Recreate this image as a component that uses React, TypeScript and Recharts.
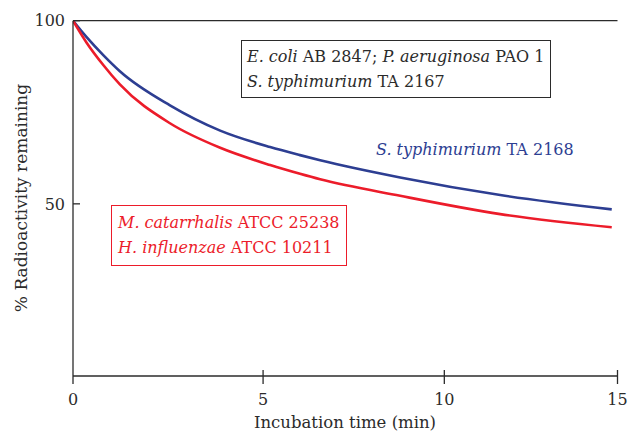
import { LineChart, Line, XAxis, YAxis, ReferenceLine } from 'recharts';

// time in minutes, % radioactivity remaining
const minutes = [0, 0.35, 0.78, 1.21, 2.52, 3.85, 5.19, 6.0, 6.55, 8.76, 11.59, 14.83];
const typhimurium2168 = [100, 95.5, 90.6, 86.2, 76.9, 70.0, 65.5, 63.3, 61.9, 57.2, 52.4, 48.5];
const catarrhalisInfluenzae = [100, 94.0, 87.9, 82.6, 72.0, 65.3, 60.6, 58.2, 56.7, 52.2, 47.2, 43.6];
const timeTicks = [0, 5, 10, 15];
const percentTicks = [50, 100];

// printed time axis gets a bit tighter to the right, log of (t + 100) reproduces that
const TIME_SHIFT = 100;

const data = minutes.map((t, i) => ({
  t,
  blue: typhimurium2168[i],
  red: catarrhalisInfluenzae[i],
}));

const FONT = '"DejaVu Serif", serif';
const INK = '#2b2b2b';
const BLUE = '#2d3e92';
const RED = '#ec1c2a';
const PLOT_LEFT = 73;
const AXIS_Y = 376;

const TimeTick = ({ x, payload }: any) => {
  const v = Math.round(payload.value - TIME_SHIFT);
  return (
    <g>
      <line x1={x} x2={x} y1={v === 0 ? AXIS_Y : AXIS_Y - 6} y2={AXIS_Y + 8} stroke={INK} strokeWidth={1.3} />
      <text x={x} y={405} textAnchor="middle" fontSize={16} fill={INK} fontFamily={FONT}>
        {v}
      </text>
    </g>
  );
};

const PercentTick = ({ y, payload }: any) => (
  <g>
    <line x1={PLOT_LEFT} x2={PLOT_LEFT + 7} y1={y} y2={y} stroke={INK} strokeWidth={1.3} />
    <text x={PLOT_LEFT - 8} y={y} dy="0.36em" textAnchor="end" fontSize={16} fill={INK} fontFamily={FONT}>
      {payload.value}
    </text>
  </g>
);

const App = () => {
  return (
    <div
      style={{
        position: 'absolute',
        left: 0,
        top: 0,
        width: 628,
        height: 433,
        overflow: 'hidden',
        background: '#fff',
        fontFamily: FONT,
        color: INK,
      }}
    >
      <LineChart width={628} height={433} data={data} margin={{ top: 20.7, right: 10.5, bottom: 0, left: 0 }}>
        <XAxis
          type="number"
          dataKey={(d: any) => d.t + TIME_SHIFT}
          scale="log"
          domain={[TIME_SHIFT, TIME_SHIFT + 15]}
          ticks={timeTicks.map((v) => v + TIME_SHIFT)}
          interval={0}
          allowDataOverflow
          height={57}
          stroke={INK}
          strokeWidth={1.3}
          tickLine={false}
          tick={(p: any) => <TimeTick {...p} />}
        />
        <YAxis
          type="number"
          domain={[3, 100]}
          ticks={percentTicks}
          interval={0}
          allowDataOverflow
          width={73}
          stroke={INK}
          strokeWidth={1.3}
          tickLine={false}
          tick={(p: any) => <PercentTick {...p} />}
        />
        <ReferenceLine y={100} stroke={INK} strokeWidth={1.3} />
        <Line type="monotone" dataKey="blue" stroke={BLUE} strokeWidth={2.6} dot={false} isAnimationActive={false} />
        <Line type="monotone" dataKey="red" stroke={RED} strokeWidth={2.6} dot={false} isAnimationActive={false} />
      </LineChart>

      <div
        style={{
          position: 'absolute',
          left: 241,
          top: 40,
          border: `1.3px solid ${INK}`,
          padding: '3px 6px 3px 5px',
          fontSize: 16,
          lineHeight: '25px',
          whiteSpace: 'nowrap',
        }}
      >
        <div>
          <i>E. coli</i> AB 2847; <i>P. aeruginosa</i> PAO 1
        </div>
        <div>
          <i>S. typhimurium</i> TA 2167
        </div>
      </div>

      <div
        style={{
          position: 'absolute',
          left: 111,
          top: 205,
          border: `1.3px solid ${RED}`,
          padding: '4px 6px 5px 6px',
          fontSize: 16,
          lineHeight: '25px',
          whiteSpace: 'nowrap',
          color: RED,
        }}
      >
        <div>
          <i>M. catarrhalis</i> ATCC 25238
        </div>
        <div>
          <i>H. influenzae</i> ATCC 10211
        </div>
      </div>

      <div
        style={{
          position: 'absolute',
          left: 376,
          top: 137,
          fontSize: 16,
          lineHeight: '25px',
          whiteSpace: 'nowrap',
          color: BLUE,
        }}
      >
        <i>S. typhimurium</i> TA 2168
      </div>

      <div
        style={{
          position: 'absolute',
          left: 21 - 150,
          top: 198 - 10,
          width: 300,
          height: 20,
          lineHeight: '20px',
          fontSize: 17,
          textAlign: 'center',
          whiteSpace: 'nowrap',
          transform: 'rotate(-90deg)',
        }}
      >
        % Radioactivity remaining
      </div>

      <div
        style={{
          position: 'absolute',
          left: 345 - 150,
          top: 413,
          width: 300,
          height: 20,
          lineHeight: '20px',
          fontSize: 16.5,
          textAlign: 'center',
          whiteSpace: 'nowrap',
        }}
      >
        Incubation time (min)
      </div>
    </div>
  );
};

export default App;
